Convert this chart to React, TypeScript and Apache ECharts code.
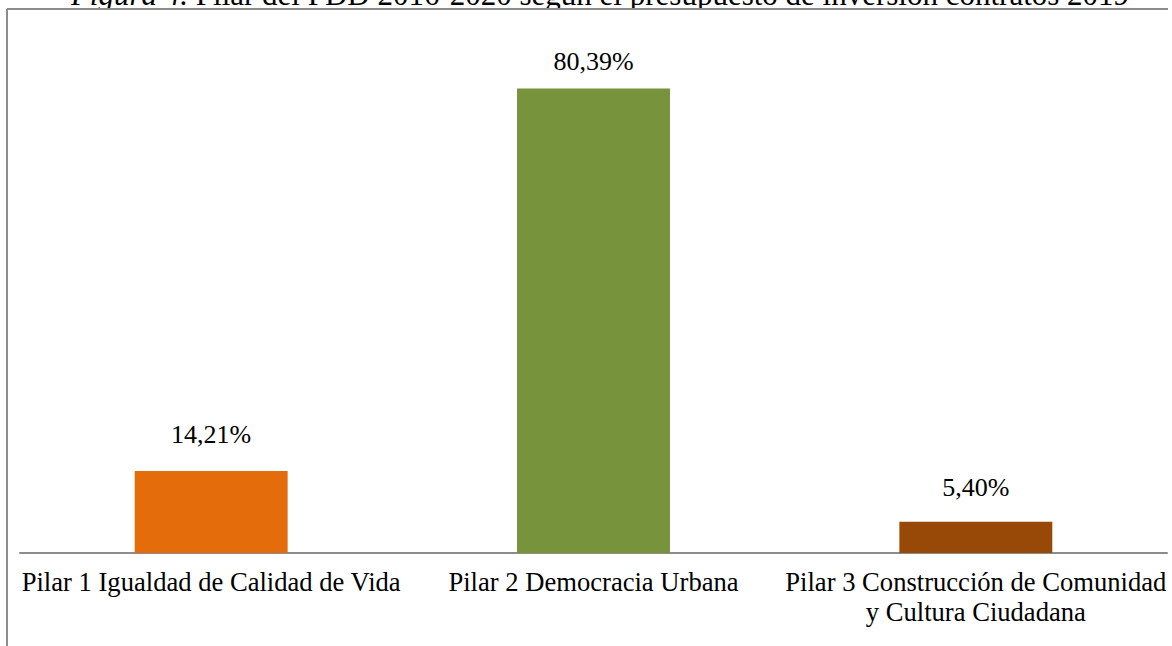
import React, { useEffect, useRef } from "react";
import * as echarts from "echarts";

const categories = [
  "Pilar 1 Igualdad de Calidad de Vida",
  "Pilar 2 Democracia Urbana",
  "Pilar 3 Construcción de Comunidad\ny Cultura Ciudadana",
];
const values = [14.21, 80.39, 5.4];
const barColors = ["#E46C0A", "#77933C", "#984807"];
const labelDistances = [23, 14, 21];
const titleItalic = "Figura 4.";
const titleRest = " Pilar del PDD 2016-2020 según el presupuesto de inversión contratos 2019";

const FONT = "Liberation Serif";

export default function App() {
  const ref = useRef<HTMLDivElement>(null);
  useEffect(() => {
    if (!ref.current) return;
    const chart = echarts.init(ref.current, null, { renderer: "svg" });
    chart.setOption({
      animation: false,
      backgroundColor: "#ffffff",
      grid: { left: 20, right: 5, top: 33, bottom: 93, containLabel: false },
      xAxis: {
        type: "category",
        data: categories,
        axisLine: { show: true, lineStyle: { color: "#8c8c8c", width: 2 } },
        axisTick: { show: false },
        axisLabel: {
          interval: 0,
          color: "#000000",
          fontFamily: FONT,
          fontSize: 26.6,
          lineHeight: 30,
          margin: 14,
        },
      },
      yAxis: {
        type: "value",
        min: 0,
        max: 90,
        show: false,
        splitLine: { show: false },
      },
      series: [
        {
          type: "bar",
          barWidth: "40%",
          data: values.map((v, i) => ({
            value: v,
            itemStyle: { color: barColors[i] },
            label: { distance: labelDistances[i] },
          })),
          label: {
            show: true,
            position: "top",
            color: "#000000",
            fontFamily: FONT,
            fontSize: 26,
            formatter: (p: any) => p.value.toFixed(2).replace(".", ",") + "%",
          },
        },
      ],
      graphic: [
        {
          type: "text",
          x: 600,
          y: 10,
          style: {
            text: "{i|" + titleItalic + "}{n|" + titleRest + "}",
            textAlign: "center",
            textVerticalAlign: "bottom",
            rich: {
              i: { fontFamily: FONT, fontSize: 31, fontStyle: "italic", fill: "#000" },
              n: { fontFamily: FONT, fontSize: 31, fill: "#000" },
            },
          },
        },
        {
          type: "rect",
          shape: { x: 0, y: 10, width: 1172, height: 6 },
          style: { fill: "#ffffff" },
        },
        {
          type: "line",
          shape: { x1: 7, y1: 9, x2: 1168, y2: 9 },
          style: { stroke: "#8c8c8c", lineWidth: 2 },
        },
        {
          type: "line",
          shape: { x1: 7, y1: 9, x2: 7, y2: 646 },
          style: { stroke: "#8c8c8c", lineWidth: 2 },
        },
      ],
    });
    return () => chart.dispose();
  }, []);
  return (
    <div
      ref={ref}
      style={{ position: "fixed", left: 0, top: 0, width: 1172, height: 646 }}
    />
  );
}
